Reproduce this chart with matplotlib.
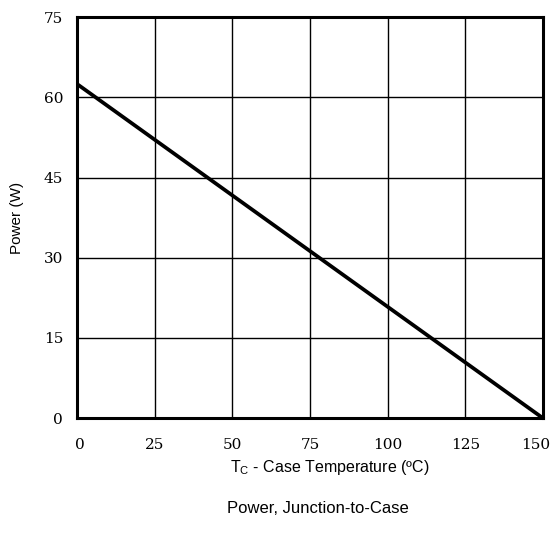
#!/usr/bin/env python3

"""
plot.py - Power derating curve, junction-to-case.
"""

import matplotlib
matplotlib.use("Agg")
import matplotlib.pyplot as plt
import matplotlib.transforms as mtransforms

# Data.
temp_c = [0, 150]          # Case temperature (degC)
power_w = [62.5, 0]        # Max power (W)
x_ticks = [0, 25, 50, 75, 100, 125, 150]
y_ticks = [0, 15, 30, 45, 60, 75]

fig = plt.figure(figsize=(5.5, 5.36), dpi=100)
ax = fig.add_axes([0.140, 0.220, 0.847, 0.748])

# Curve.
ax.plot(temp_c, power_w, color="black", linewidth=2.7, solid_capstyle="round", zorder=3)

# Axes limits and ticks.
ax.set_xlim(0, 150)
ax.set_ylim(0, 75)
ax.set_xticks(x_ticks)
ax.set_yticks(y_ticks)
ax.grid(True, color="black", linewidth=1.0)
ax.tick_params(axis="x", length=0, pad=14, labelsize=11)
ax.tick_params(axis="y", length=0, pad=10, labelsize=11)
for lab in ax.get_xticklabels() + ax.get_yticklabels():
    lab.set_family("DejaVu Serif")

# Nudge the end labels inward, as in the original.
xlabs = ax.get_xticklabels()
xlabs[0].set_transform(xlabs[0].get_transform() +
                       mtransforms.ScaledTranslation(3 / 100, 0, fig.dpi_scale_trans))
xlabs[-1].set_transform(xlabs[-1].get_transform() +
                        mtransforms.ScaledTranslation(-7 / 100, 0, fig.dpi_scale_trans))

for s in ax.spines.values():
    s.set_linewidth(2.2)

# Labels.
ax.set_ylabel("Power (W)", family="Liberation Sans", fontsize=11, labelpad=14)
fig.text(0.60, 0.127, r"T$_\mathregular{C}$ - Case Temperature (ºC)",
         family="Liberation Sans", fontsize=11.5, ha="center", va="center")
fig.text(0.578, 0.052, "Power, Junction-to-Case",
         family="Liberation Sans", fontsize=12, ha="center", va="center")

fig.savefig("out.png", dpi=100)
